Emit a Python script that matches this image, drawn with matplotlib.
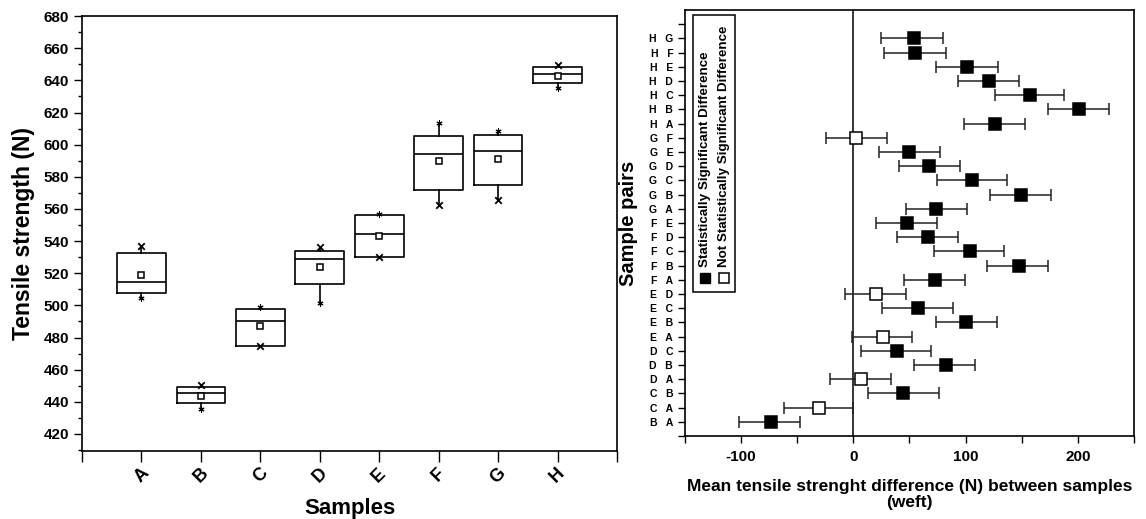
import numpy as np
import matplotlib
matplotlib.use('Agg')
import matplotlib.pyplot as plt
from matplotlib.patches import Rectangle

plt.rcParams['font.family'] = ['Liberation Sans', 'DejaVu Sans']
plt.rcParams['font.weight'] = 'bold'

# Left panel: box chart data (N)
samples = ['A', 'B', 'C', 'D', 'E', 'F', 'G', 'H']
q1 = [507.5, 439.5, 474.7, 513.3, 529.9, 571.6, 574.7, 638.1]
median = [514.5, 445.7, 490.3, 528.8, 544.2, 594.0, 596.2, 643.9]
q3 = [532.8, 449.4, 497.7, 534.0, 556.4, 605.5, 605.8, 648.1]
mean = [518.9, 443.8, 487.2, 524.0, 543.1, 589.8, 591.0, 642.5]
x_mark = [536.9, 450.5, 474.9, 536.1, 530.3, 562.6, 565.5, 649.3]
star_mark = [504.4, 435.7, 498.8, 501.7, 557.0, 613.3, 608.7, 635.0]

# Right panel: pairwise mean differences with confidence limits
pairs = ['B   A', 'C   A', 'C   B', 'D   A', 'D   B', 'D   C', 'E   A', 'E   B',
         'E   C', 'E   D', 'F   A', 'F   B', 'F   C', 'F   D', 'F   E', 'G   A',
         'G   B', 'G   C', 'G   D', 'G   E', 'G   F', 'H   A', 'H   B', 'H   C',
         'H   D', 'H   E', 'H   F', 'H   G']
diff = [-73.3, -30.3, 44.5, 7.1, 82.3, 38.9, 26.2, 100.4, 57.3, 19.9,
        72.8, 147.3, 104.2, 66.5, 47.5, 73.9, 149.3, 106.0, 67.4, 49.3,
        2.7, 126.2, 201.3, 157.6, 120.5, 101.2, 55.2, 53.8]
ci_low = [-101.5, -62.0, 12.8, -21.0, 54.0, 7.1, -1.4, 73.4, 25.3, -7.1,
          44.9, 119.0, 71.9, 38.9, 20.2, 46.6, 121.7, 74.2, 41.0, 22.6,
          -24.0, 98.3, 173.1, 126.2, 93.0, 73.6, 27.3, 24.9]
ci_high = [-47.2, -0.5, 76.3, 33.6, 108.4, 68.9, 52.5, 127.7, 88.5, 46.9,
           99.5, 173.6, 134.5, 93.2, 74.8, 101.0, 176.3, 136.6, 95.3, 76.9,
           30.0, 152.6, 227.7, 187.9, 147.6, 128.6, 82.3, 79.9]
significant = [True, False, True, False, True, True, False, True, True, False,
               True, True, True, True, True, True, True, True, True, True,
               False, True, True, True, True, True, True, True]

fig = plt.figure(figsize=(11.46, 5.19), dpi=100)
ax1 = fig.add_axes([0.0716, 0.131, 0.4668, 0.838])
ax2 = fig.add_axes([0.5977, 0.160, 0.3918, 0.8208])

# ---- left: box chart ----
pos = np.arange(1, len(samples) + 1)
stats = []
for i in range(len(samples)):
    stats.append(dict(med=median[i], q1=q1[i], q3=q3[i], mean=mean[i],
                      whislo=min(x_mark[i], star_mark[i], q1[i]),
                      whishi=max(x_mark[i], star_mark[i], q3[i]), fliers=[]))
lp = dict(color='black', linewidth=1.2)
ax1.bxp(stats, positions=pos, widths=0.82, showmeans=True, showcaps=False,
        boxprops=lp, medianprops=lp, whiskerprops=lp,
        meanprops=dict(marker='s', markerfacecolor='white', markeredgecolor='black',
                       markersize=5, markeredgewidth=1.1))
ax1.scatter(pos, x_mark, marker='x', color='black', s=22, linewidths=1.3, zorder=3)
ax1.scatter(pos, star_mark, marker=(6, 2, 0), color='black', s=14, linewidths=0.8, zorder=3)

ax1.set_xlim(0, 9)
ax1.set_ylim(409.4, 680)
ax1.set_xticks(pos)
ax1.set_xticks([0, 9], minor=True)
ax1.set_xticklabels(samples, rotation=45, fontsize=13, fontweight='bold')
ax1.set_yticks(np.arange(420, 681, 20))
ax1.set_yticks(np.arange(410, 681, 10), minor=True)
ax1.tick_params(axis='y', which='major', direction='out', length=6, width=1, labelsize=11)
ax1.tick_params(axis='y', which='minor', direction='out', length=3, width=1)
ax1.tick_params(axis='x', which='both', direction='out', length=8, width=1, pad=2)
for s in ax1.spines.values():
    s.set_linewidth(1.2)
ax1.set_xlabel('Samples', fontsize=16, fontweight='bold', labelpad=8)
ax1.set_ylabel('Tensile strength (N)', fontsize=16.5, fontweight='bold', labelpad=6)

# ---- right: pairwise differences ----
ypos = np.arange(1, len(pairs) + 1)
diff_a = np.array(diff)
lo = diff_a - np.array(ci_low)
hi = np.array(ci_high) - diff_a
sig = np.array(significant)
ax2.axvline(0, color='black', linewidth=1.1, zorder=1)
for mask, face in [(sig, 'black'), (~sig, 'white')]:
    ax2.errorbar(diff_a[mask], ypos[mask], xerr=[lo[mask], hi[mask]], fmt='s',
                 color='#222222', ecolor='#222222', elinewidth=1.1, capsize=4, capthick=1.1,
                 markersize=8, markerfacecolor=face, markeredgecolor='black',
                 markeredgewidth=1.1, zorder=3)

ax2.set_xlim(-150, 250)
ax2.set_ylim(0, 30)
ax2.set_xticks([-100, 0, 100, 200])
ax2.set_xticks([-150, -50, 50, 150, 250], minor=True)
ax2.set_xticklabels(['-100', '0', '100', '200'], fontsize=11, fontweight='bold')
ax2.set_yticks(ypos)
ax2.set_yticklabels(pairs, fontsize=7.5, fontweight='bold')
ax2.set_yticks([0, 29], minor=True)
ax2.tick_params(axis='both', which='both', direction='out', length=5, width=1)
ax2.tick_params(axis='x', pad=5)
for s in ax2.spines.values():
    s.set_linewidth(1.2)
ax2.set_xlabel('Mean tensile strenght difference (N) between samples\n(weft)',
               fontsize=12.5, fontweight='bold', labelpad=11, linespacing=1.05)
ax2.set_ylabel('Sample pairs', fontsize=14.5, fontweight='bold', labelpad=8)

# rotated legend drawn by hand
ax2.add_patch(Rectangle((0.018, 0.338), 0.093, 0.65, transform=ax2.transAxes,
                        facecolor='white', edgecolor='black', linewidth=1.1, zorder=4))
ax2.plot([0.0445], [0.371], 's', transform=ax2.transAxes, markersize=7,
         markerfacecolor='black', markeredgecolor='black', zorder=5)
ax2.plot([0.0869], [0.371], 's', transform=ax2.transAxes, markersize=7,
         markerfacecolor='white', markeredgecolor='black', markeredgewidth=1.1, zorder=5)
ax2.text(0.0445, 0.397, 'Statistically Significant Difference', transform=ax2.transAxes,
         rotation=90, ha='center', va='bottom', fontsize=9.6, fontweight='bold', zorder=5)
ax2.text(0.0869, 0.397, 'Not Statistically Significant Difference', transform=ax2.transAxes,
         rotation=90, ha='center', va='bottom', fontsize=9.6, fontweight='bold', zorder=5)

fig.savefig('out.png', dpi=100)
